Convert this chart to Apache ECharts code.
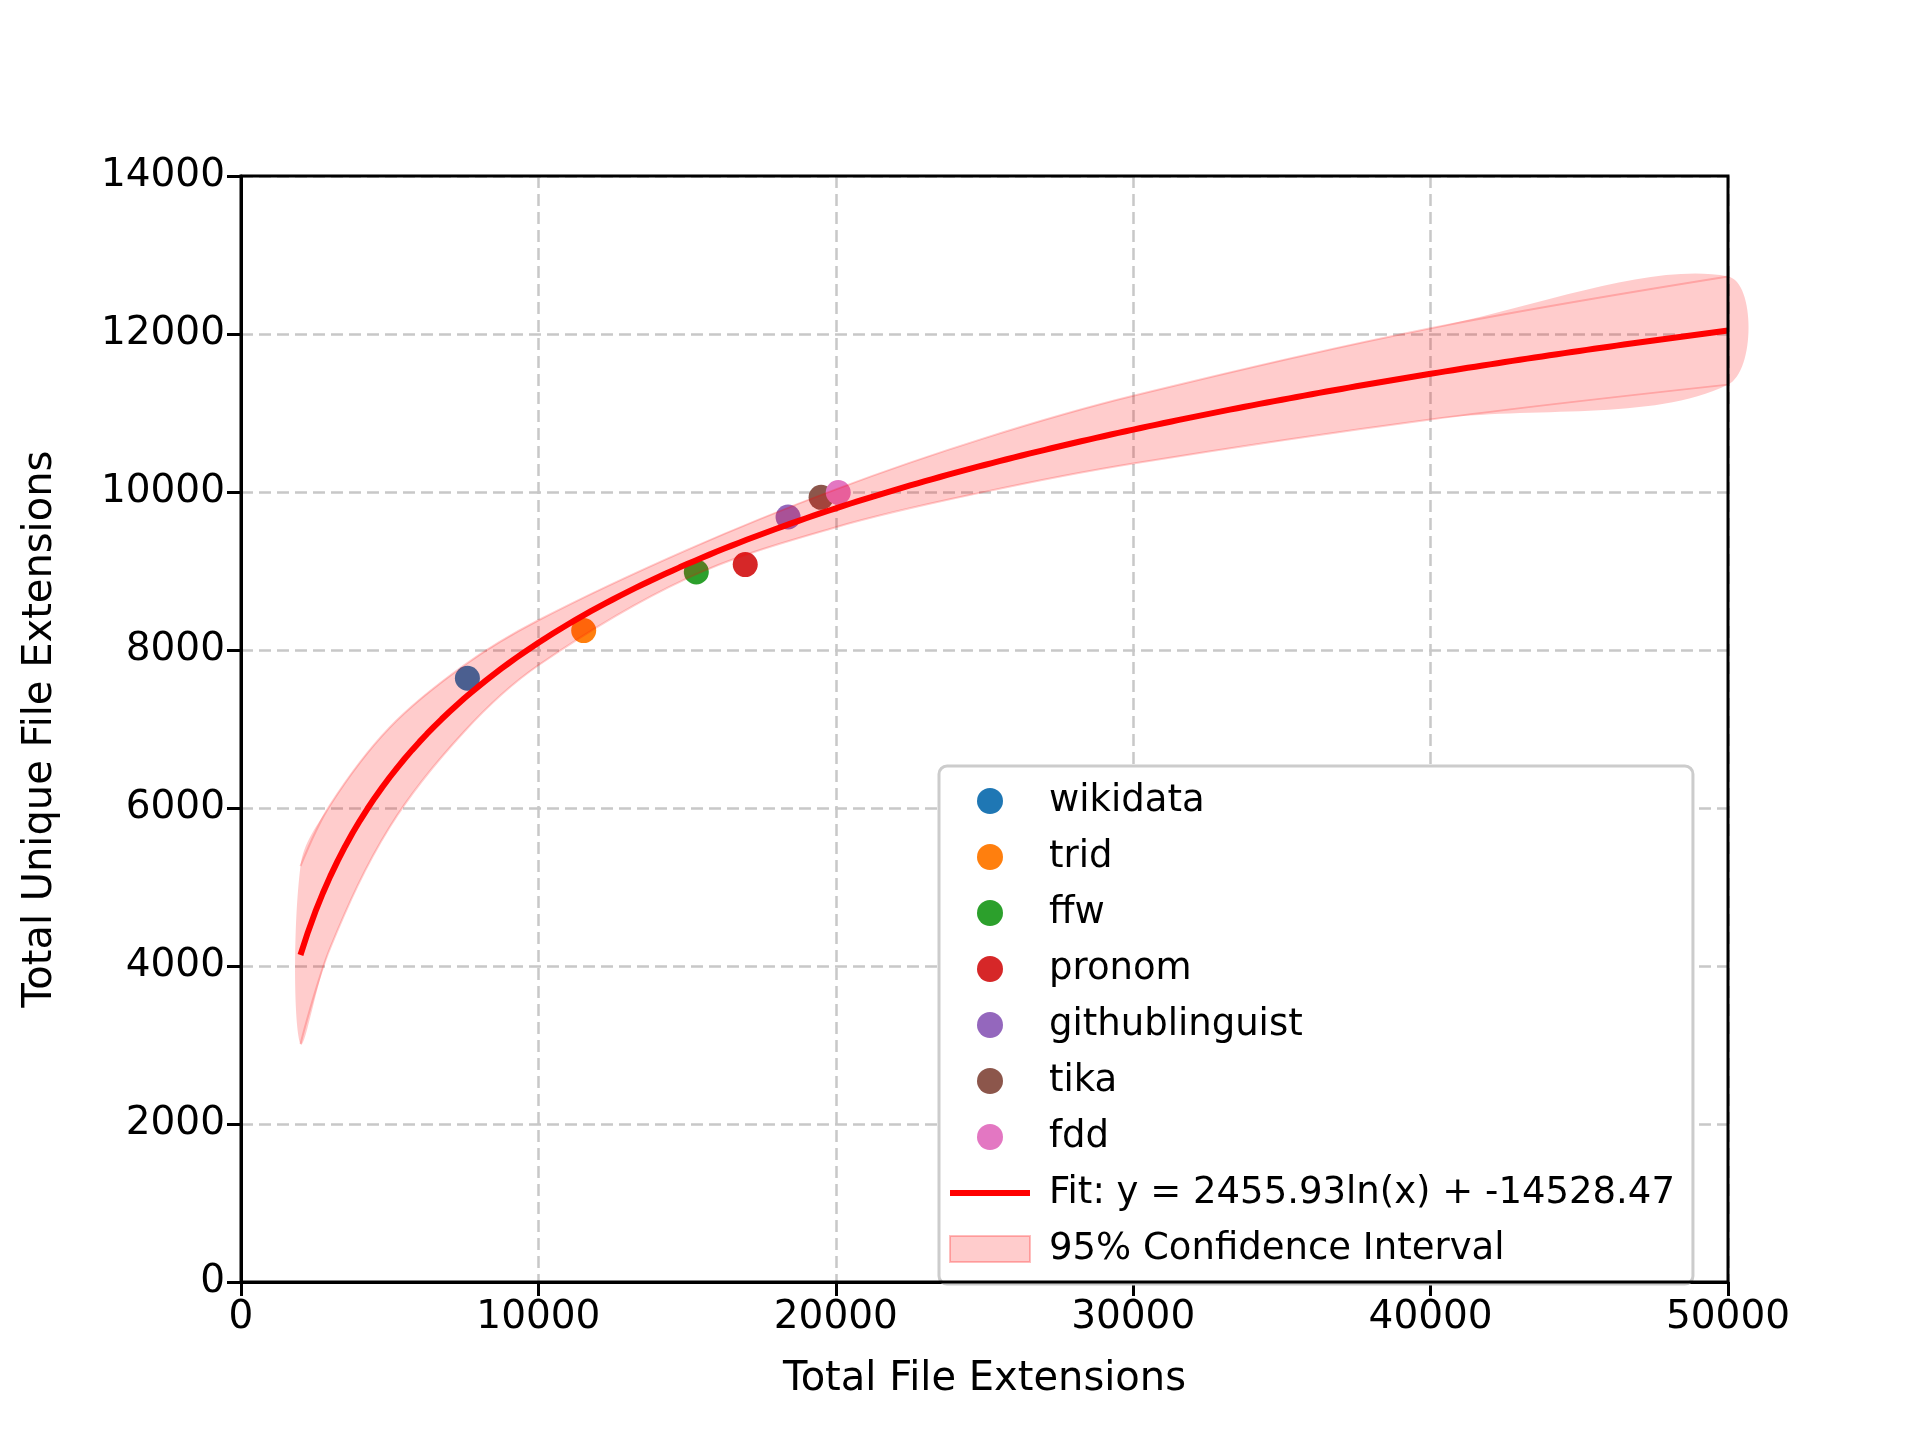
<!DOCTYPE html>
<html>
<head>
<meta charset="utf-8">
<title>File extensions fit</title>
<script src="https://cdn.jsdelivr.net/npm/echarts@6/dist/echarts.min.js"></script>
<style>
    html, body { margin: 0; padding: 0; background: #fff; }
    #main { width: 1920px; height: 1440px; }
</style>
</head>
<body>
<div id="main"></div>
<script type="text/javascript">
    // data points
    var sources = ['wikidata', 'trid', 'ffw', 'pronom', 'githublinguist', 'tika', 'fdd'];
    var totalExt = [7613, 11523, 15309, 16955, 18395, 19506, 20082];
    var uniqueExt = [7642, 8246, 8988, 9081, 9684, 9932, 9994];
    var colors = ['#1f77b4', '#ff7f0e', '#2ca02c', '#d62728', '#9467bd', '#8c564b', '#e377c2'];

    // fit coefficients (from the legend text)
    var fitA = 2455.93, fitB = -14528.47;
    // confidence band half width, read at these x values
    var bandX = [2000, 3000, 5000, 7500, 10000, 15000, 20000, 25000, 30000, 40000, 50000];
    var bandHalf = [1125, 905, 630, 420, 285, 180, 240, 340, 428, 577, 685];

    var xTicks = [0, 10000, 20000, 30000, 40000, 50000];
    var yTicks = [0, 2000, 4000, 6000, 8000, 10000, 12000, 14000];

    function fit(x) { return fitA * Math.log(x) + fitB; }

    var fitData = [];
    for (var x = 2000; x <= 50000; x += 250) fitData.push([x, fit(x)]);
    var bandData = [];
    for (var i = 0; i < bandX.length; i++) {
        bandData.push([bandX[i], fit(bandX[i]) - bandHalf[i], fit(bandX[i]) + bandHalf[i]]);
    }

    var font = 'DejaVu Sans';
    var series = [];
    for (var i = 0; i < sources.length; i++) {
        series.push({
            name: sources[i],
            type: 'scatter',
            z: 1,
            symbolSize: 25,
            itemStyle: {color: colors[i], opacity: 1},
            data: [[totalExt[i], uniqueExt[i]]]
        });
    }
    // confidence band: one polygon drawn through the axis scales
    series.push({
        name: '95% Confidence Interval',
        type: 'custom',
        z: 2,
        itemStyle: {color: 'rgba(255,0,0,0.2)', borderColor: 'rgba(255,0,0,0.25)', borderWidth: 2},
        data: [0],
        renderItem: function (params, api) {
            var up = [], lo = [];
            for (var i = 0; i < bandData.length; i++) {
                lo.push(api.coord([bandData[i][0], bandData[i][1]]));
                up.push(api.coord([bandData[i][0], bandData[i][2]]));
            }
            var edge = {stroke: 'rgba(255,0,0,0.2)', lineWidth: 2, fill: null};
            return {
                type: 'group',
                children: [
                    {type: 'polygon', shape: {points: up.concat(lo.slice().reverse()), smooth: 0.35},
                     style: {fill: 'rgba(255,0,0,0.2)'}},
                    {type: 'polyline', shape: {points: up, smooth: 0.35}, style: edge},
                    {type: 'polyline', shape: {points: lo, smooth: 0.35}, style: edge}
                ]
            };
        }
    });
    series.push({
        name: 'Fit: y = 2455.93ln(x) + -14528.47',
        type: 'line',
        z: 3,
        showSymbol: false,
        itemStyle: {color: '#ff0000'},
        lineStyle: {color: '#ff0000', width: 6},
        data: fitData
    });

    var legendData = sources.map(function (s) { return {name: s, icon: 'circle'}; });
    legendData.push({name: 'Fit: y = 2455.93ln(x) + -14528.47', icon: 'path://M0,10 L80,10 L80,16 L0,16 Z'});
    legendData.push({name: '95% Confidence Interval', icon: 'rect'});

    var myChart = echarts.init(document.getElementById('main'));
    var option = {
        animation: false,
        grid: {left: 241, right: 192, top: 176, bottom: 158},
        legend: {
            data: legendData,
            orient: 'vertical',
            left: 939,
            top: 766,
            itemWidth: 80,
            itemHeight: 26,
            itemGap: 14,
            padding: [14, 18, 14, 10],
            backgroundColor: '#fff',
            borderColor: '#cccccc',
            borderWidth: 3,
            borderRadius: 8,
            textStyle: {fontFamily: font, fontSize: 37, color: '#000', lineHeight: 42, padding: [0, 0, 0, 14]}
        },
        xAxis: {
            type: 'value',
            min: 0, max: 50000, interval: 10000,
            name: 'Total File Extensions',
            nameLocation: 'middle',
            nameGap: 78,
            nameTextStyle: {fontFamily: font, fontSize: 40, color: '#000'},
            axisLine: {onZero: false, lineStyle: {color: '#000', width: 3}},
            axisTick: {show: true, length: 14, lineStyle: {color: '#000', width: 3}},
            axisLabel: {fontFamily: font, fontSize: 39, color: '#000', margin: 16,
                        formatter: function (v) { return String(v); }},
            splitLine: {show: true, lineStyle: {color: '#c8c8c8', type: [12, 6], width: 2.5}}
        },
        yAxis: {
            type: 'value',
            min: 0, max: 14000, interval: 2000,
            name: 'Total Unique File Extensions',
            nameLocation: 'middle',
            nameGap: 180,
            nameTextStyle: {fontFamily: font, fontSize: 40, color: '#000'},
            axisLine: {show: true, lineStyle: {color: '#000', width: 3}},
            axisTick: {show: true, length: 14, lineStyle: {color: '#000', width: 3}},
            axisLabel: {fontFamily: font, fontSize: 39, color: '#000', margin: 16,
                        formatter: function (v) { return String(v); }},
            splitLine: {show: true, lineStyle: {color: '#c8c8c8', type: [12, 6], width: 2.5}}
        },
        graphic: [{
            type: 'rect', shape: {x: 241, y: 176, width: 1487, height: 1106},
            style: {fill: 'none', stroke: '#000', lineWidth: 3}, z: 10, silent: true
        }],
        series: series
    };
    myChart.setOption(option);
</script>
</body>
</html>
